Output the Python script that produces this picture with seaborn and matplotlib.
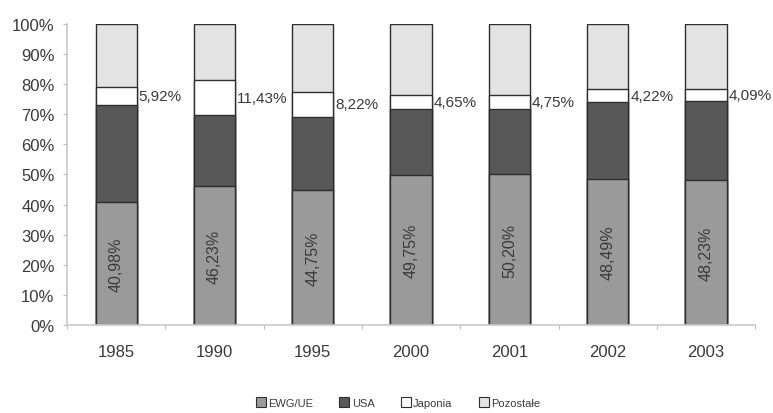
import numpy as np
import pandas as pd
import matplotlib
matplotlib.use("Agg")
import matplotlib.pyplot as plt
import seaborn as sns
from matplotlib.patches import Patch

years = ["1985", "1990", "1995", "2000", "2001", "2002", "2003"]
ewg_ue = [40.98, 46.23, 44.75, 49.75, 50.20, 48.49, 48.23]
usa = [32.1, 23.6, 24.4, 22.0, 21.6, 25.6, 26.2]
japonia = [5.92, 11.43, 8.22, 4.65, 4.75, 4.22, 4.09]
series_names = ["EWG/UE", "USA", "Japonia", "Pozostałe"]
y_ticks = [0, 10, 20, 30, 40, 50, 60, 70, 80, 90, 100]

pozostale = [100 - a - b - c for a, b, c in zip(ewg_ue, usa, japonia)]

df = pd.DataFrame({
    "rok": years,
    "EWG/UE": ewg_ue,
    "USA": usa,
    "Japonia": japonia,
    "Pozostałe": pozostale,
})
# cumulative tops, drawn back to front so each layer shows its own segment
df["top_poz"] = df[["EWG/UE", "USA", "Japonia", "Pozostałe"]].sum(axis=1)
df["top_jap"] = df[["EWG/UE", "USA", "Japonia"]].sum(axis=1)
df["top_usa"] = df[["EWG/UE", "USA"]].sum(axis=1)
df["top_ewg"] = df["EWG/UE"]

colors = {"EWG/UE": "#9a9a9a", "USA": "#585858", "Japonia": "#ffffff", "Pozostałe": "#e3e3e3"}
edge = "#2e2e2e"
text_c = "#3a3a3a"

sns.set_theme(style="white")
plt.rcParams["font.family"] = ["Liberation Sans", "DejaVu Sans"]

fig = plt.figure(figsize=(7.73, 4.14), dpi=100)
ax = fig.add_axes([0.0867, 0.2126, 0.8903, 0.727])

bw = 0.42
for col, name in [("top_poz", "Pozostałe"), ("top_jap", "Japonia"),
                  ("top_usa", "USA"), ("top_ewg", "EWG/UE")]:
    sns.barplot(data=df, x="rok", y=col, color=colors[name], saturation=1,
                width=bw, edgecolor=edge, linewidth=1.0, ax=ax)

# labels: EWG/UE share inside the bar, Japan share to the right of the bar
for i in range(len(years)):
    ax.text(i, ewg_ue[i] / 2, f"{ewg_ue[i]:.2f}%".replace(".", ","),
            rotation=90, ha="center", va="center", fontsize=11.5, color=text_c)
    ymid = ewg_ue[i] + usa[i] + japonia[i] / 2
    ax.text(i + bw / 2 + 0.02, ymid, f"{japonia[i]:.2f}%".replace(".", ","),
            ha="left", va="center", fontsize=11, color=text_c)

ax.set_xlim(-0.5, len(years) - 0.5)
ax.set_ylim(0, 100)
ax.set_yticks(y_ticks)
ax.set_yticklabels([f"{t}%" for t in y_ticks])
ax.set_xlabel("")
ax.set_ylabel("")
ax.tick_params(axis="y", labelsize=12, colors="#bbbbbb", labelcolor=text_c,
               length=3, width=0.8, direction="out", left=True, pad=6)
ax.tick_params(axis="x", labelsize=12, labelcolor=text_c, length=0, pad=14)
ax.set_xticks(np.arange(-0.5, len(years), 1.0), minor=True)
ax.tick_params(axis="x", which="minor", length=3, width=0.8, colors="#bbbbbb",
               direction="out", bottom=True)

for s in ["top", "right"]:
    ax.spines[s].set_visible(False)
for s in ["left", "bottom"]:
    ax.spines[s].set_color("#c8c8c8")
    ax.spines[s].set_linewidth(1.2)

handles = [Patch(facecolor=colors[n], edgecolor=edge, linewidth=0.8, label=n)
           for n in series_names]
fig.legend(handles=handles, loc="center", bbox_to_anchor=(0.515, 0.025), ncol=4,
           frameon=False, fontsize=8, handlelength=0.9, handleheight=0.9,
           handletextpad=0.2, columnspacing=2.4, labelcolor=text_c)

fig.savefig("out.png", dpi=100, facecolor="white")
